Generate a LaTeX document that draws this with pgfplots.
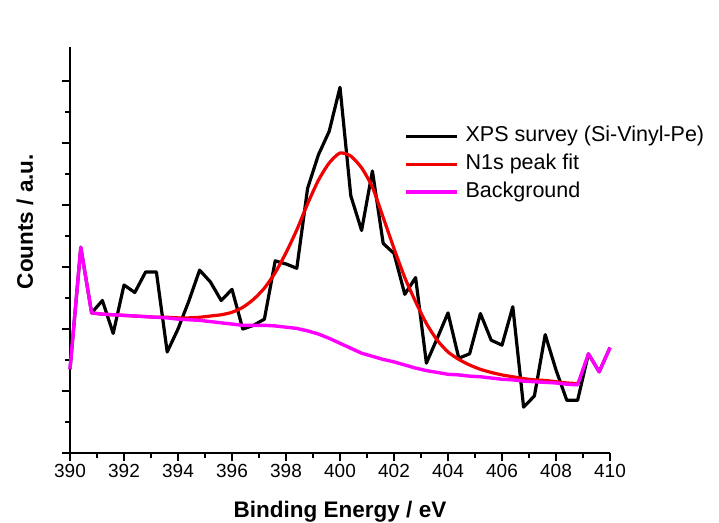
\documentclass[border=0pt]{standalone}
\usepackage{pgfplots}
\pgfplotsset{compat=1.18}
\usepackage{pgfplotstable}
\usepackage{fontspec}
\setmainfont{Liberation Sans}

\definecolor{fitred}{RGB}{240,0,0}
\definecolor{bgmagenta}{RGB}{255,0,255}

% Measured spectrum
\pgfplotstableread{
x y
390.0 1.35
390.4 3.32
390.8 2.26
391.2 2.46
391.6 1.93
392.0 2.71
392.4 2.59
392.8 2.92
393.2 2.92
393.6 1.63
394.0 2.00
394.4 2.45
394.8 2.95
395.2 2.76
395.6 2.46
396.0 2.64
396.4 2.00
396.8 2.06
397.2 2.16
397.6 3.10
398.0 3.05
398.4 2.98
398.8 4.27
399.2 4.81
399.6 5.19
400.0 5.90
400.4 4.15
400.8 3.59
401.2 4.55
401.6 3.38
402.0 3.22
402.4 2.56
402.8 2.83
403.2 1.45
403.6 1.85
404.0 2.26
404.4 1.53
404.8 1.60
405.2 2.25
405.6 1.82
406.0 1.74
406.4 2.36
406.8 0.74
407.2 0.92
407.6 1.91
408.0 1.34
408.4 0.85
408.8 0.85
409.2 1.60
409.6 1.31
410.0 1.70
}\survey

% N1s peak fit (on top of the background)
\pgfplotstableread{
x y
390.8 2.26
391.2 2.24
391.6 2.23
392.0 2.22
392.4 2.21
392.8 2.20
393.2 2.19
393.6 2.19
394.0 2.18
394.4 2.18
394.8 2.19
395.2 2.21
395.6 2.23
396.0 2.27
396.4 2.35
396.8 2.48
397.2 2.66
397.6 2.91
398.0 3.23
398.4 3.60
398.8 4.02
399.2 4.40
399.6 4.68
400.0 4.84
400.4 4.79
400.8 4.60
401.2 4.29
401.6 3.80
402.0 3.30
402.4 2.83
402.8 2.44
403.2 2.09
403.6 1.82
404.0 1.63
404.4 1.51
404.8 1.42
405.2 1.35
405.6 1.30
406.0 1.26
406.4 1.23
406.8 1.20
407.2 1.18
407.6 1.17
408.0 1.15
408.4 1.13
408.8 1.12
}\peakfit

% Background
\pgfplotstableread{
x y
390.0 1.35
390.4 3.32
390.8 2.26
391.2 2.24
391.6 2.23
392.0 2.22
392.4 2.21
392.8 2.20
393.2 2.19
393.6 2.18
394.0 2.16
394.4 2.15
394.8 2.14
395.2 2.12
395.6 2.10
396.0 2.08
396.4 2.06
396.8 2.06
397.2 2.06
397.6 2.05
398.0 2.03
398.4 2.01
398.8 1.97
399.2 1.92
399.6 1.85
400.0 1.77
400.4 1.69
400.8 1.61
401.2 1.56
401.6 1.51
402.0 1.47
402.4 1.42
402.8 1.37
403.2 1.33
403.6 1.30
404.0 1.27
404.4 1.26
404.8 1.24
405.2 1.23
405.6 1.21
406.0 1.19
406.4 1.18
406.8 1.16
407.2 1.15
407.6 1.14
408.0 1.13
408.4 1.11
408.8 1.10
409.2 1.60
409.6 1.31
410.0 1.70
}\background

\begin{document}
\begin{tikzpicture}
\useasboundingbox (-70pt,-69pt) rectangle (649pt,453pt);
\begin{axis}[
  at={(0pt,0pt)}, anchor=south west,
  scale only axis, width=540pt, height=406pt,
  xmin=390, xmax=410, ymin=0, ymax=6.55,
  axis x line=bottom, axis y line=left,
  axis line style={-, line width=2pt},
  xtick={390,392,...,410}, minor x tick num=1,
  ytick={0,...,6}, yticklabels={}, minor y tick num=1,
  tick align=outside,
  major tick length=8pt, minor tick length=4.5pt,
  every tick/.style={black, line width=2pt},
  ticklabel style={font=\fontsize{19}{22}\selectfont},
  /pgf/number format/assume math mode=true,
  xlabel={Binding Energy / eV},
  ylabel={Counts / a.u.},
  label style={font=\fontsize{22.5}{26}\selectfont\bfseries},
  xlabel style={at={(rel axis cs:0.5,0)}, anchor=base, yshift=-64pt},
  ylabel style={at={(rel axis cs:-0.0833,0.570)}, anchor=center},
  clip=false,
  legend cell align=left,
  legend image code/.code={\draw[#1] (0pt,0pt) -- (51pt,0pt);},
  legend style={at={(rel axis cs:0.6185,0.8153)}, anchor=north west,
    draw=none, fill=none, inner sep=0pt, row sep=0pt,
    font=\fontsize{21.5}{25}\selectfont,
    nodes={inner sep=0pt, text height=16pt, text depth=5pt, inner ysep=3.5pt},
    /tikz/every odd column/.append style={column sep=7pt}},
]
\addplot[black, line width=3.2pt, line join=round] table {\survey};
\addlegendentry{XPS survey (Si-Vinyl-Pe)}
\addplot[fitred, line width=3.2pt, smooth, tension=0.4] table {\peakfit};
\addlegendentry{N1s peak fit}
\addplot[bgmagenta, line width=3.4pt, line join=round] table {\background};
\addlegendentry{Background}
\end{axis}
\end{tikzpicture}
\end{document}
